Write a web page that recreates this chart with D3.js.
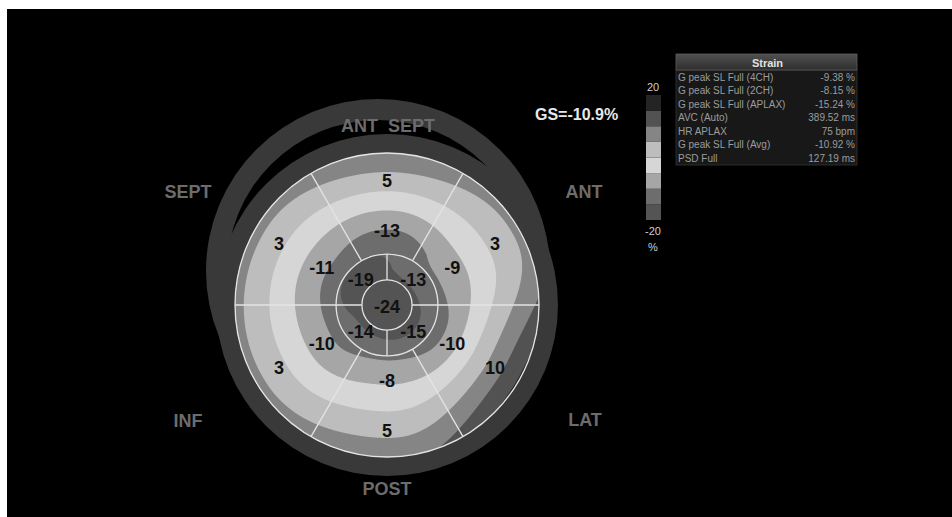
<!DOCTYPE html>
<html>
<head>
<meta charset="utf-8">
<script src="https://cdn.jsdelivr.net/npm/d3@7"></script>
<style>
  html, body { margin: 0; padding: 0; background: #fff; }
  svg { display: block; font-family: "Liberation Sans", Arial, sans-serif; }
</style>
</head>
<body>
<svg id="chart" width="952" height="517"></svg>
<script>
// Wall names, clockwise from the top of the bullseye
const walls = ["ANT SEPT", "ANT", "LAT", "POST", "INF", "SEPT"];
// Peak systolic longitudinal strain (%) per segment, same clockwise order
const basalStrain = [5, 3, 10, 5, 3, 3];
const midStrain = [-13, -9, -10, -8, -10, -11];
// Apical quadrants, clockwise from upper right
const apicalStrain = [-13, -15, -14, -19];
const apexStrain = -24;
const globalStrain = "GS=-10.9%";

// Colour bar: band edges and shades (from -20 up to 20)
const colorBreaks = [-15, -10, -5, 0, 5, 10, 15];
const colorShades = ["#545454", "#6d6d6d", "#a6a6a6", "#d6d6d6", "#bdbdbd", "#858585", "#525252", "#242424"];
const colorTicks = ["20", "-20", "%"];

// Measurements table
const tableTitle = "Strain";
const tableLabels = ["G peak SL Full (4CH)", "G peak SL Full (2CH)", "G peak SL Full (APLAX)",
  "AVC (Auto)", "HR APLAX", "G peak SL Full (Avg)", "PSD Full"];
const tableValues = ["-9.38 %", "-8.15 %", "-15.24 %", "389.52 ms", "75 bpm", "-10.92 %", "127.19 ms"];

const svg = d3.select("#chart");
const W = 952, H = 517;

// screen frame
svg.append("rect").attr("width", W).attr("height", H).attr("fill", "#fff");
svg.append("rect").attr("x", 7).attr("y", 9).attr("width", W - 7).attr("height", H - 9).attr("fill", "#000");

const cx = 387, cy = 305, R = 152;
// ring radii as fractions of the outer radius
const radius = d3.scaleLinear().domain([0, 1]).range([0, R]);
const rApex = radius(0.165), rApical = radius(0.335);
// radii where each ring's value sits in the smoothed field
const cApical = radius(0.24), cMid = radius(0.42), cBasal = radius(0.875);

const wallAngle = d3.scaleLinear().domain([0, walls.length]).range([0, 2 * Math.PI]);
const apicalAngle = d3.scaleLinear().domain([0, apicalStrain.length]).range([0, 2 * Math.PI]);

const color = d3.scaleThreshold().domain(colorBreaks).range(colorShades);

// dark band around the plot and its offset echo
const ringArc = d3.arc();
const band = svg.append("g").attr("fill", "#393939");
band.append("path")
  .attr("transform", `translate(${cx - 9},${cy - 34})`)
  .attr("d", ringArc({innerRadius: 151, outerRadius: 172, startAngle: 0, endAngle: 2 * Math.PI}));
band.append("path")
  .attr("transform", `translate(${cx},${cy})`)
  .attr("d", ringArc({innerRadius: R - 1, outerRadius: 171, startAngle: 0, endAngle: 2 * Math.PI}));

// smooth strain field, interpolated around each ring and across rings
function aroundRing(vals, offset, a) {
  const n = vals.length, step = 2 * Math.PI / n;
  let u = ((a - offset) / step) % n;
  if (u < 0) u += n;
  const i = Math.floor(u), t = u - i;
  const s = t * t * t * (t * (6 * t - 15) + 10);
  return vals[i] * (1 - s) + vals[(i + 1) % n] * s;
}
function strainAt(x, y) {
  const r = Math.hypot(x, y);
  let a = Math.atan2(x, -y);
  if (a < 0) a += 2 * Math.PI;
  const ap = aroundRing(apicalStrain, Math.PI / 4, a);
  const m = aroundRing(midStrain, 0, a);
  const b = aroundRing(basalStrain, 0, a);
  if (r <= cApical) return apexStrain + (ap - apexStrain) * r / cApical;
  if (r <= cMid) return ap + (m - ap) * (r - cApical) / (cMid - cApical);
  return m + (b - m) * (r - cMid) / (cBasal - cMid);
}

const N = 330, half = N / 2;
const grid = new Float64Array(N * N);
for (let j = 0; j < N; j++) {
  for (let i = 0; i < N; i++) grid[j * N + i] = strainAt(i + 0.5 - half, j + 0.5 - half);
}
const bands = d3.contours().size([N, N]).thresholds([-100].concat(colorBreaks))(grid);

const defs = svg.append("defs");
defs.append("clipPath").attr("id", "disk")
  .append("circle").attr("cx", cx).attr("cy", cy).attr("r", R);

const field = svg.append("g").attr("clip-path", "url(#disk)")
  .append("g").attr("transform", `translate(${cx - half},${cy - half})`);
field.selectAll("path").data(bands).join("path")
  .attr("d", d3.geoPath())
  .attr("fill", d => color(d.value));

// segment outlines
const plot = svg.append("g").attr("transform", `translate(${cx},${cy})`);
const lines = plot.append("g").attr("stroke", "#e4e4e4").attr("stroke-width", 1.3).attr("fill", "none");
[rApex, rApical, R].forEach(r => lines.append("circle").attr("r", r));
// six walls: spokes between mid/basal segments
d3.range(walls.length).forEach(k => {
  const a = wallAngle(k + 0.5);
  const inner = (Math.abs(Math.sin(a)) > 0.99) ? rApex : rApical;
  const p0 = d3.pointRadial(a, inner), p1 = d3.pointRadial(a, R);
  lines.append("line").attr("x1", p0[0]).attr("y1", p0[1]).attr("x2", p1[0]).attr("y2", p1[1]);
});
// apical quadrant spokes (vertical pair)
[0, Math.PI].forEach(a => {
  const p0 = d3.pointRadial(a, rApex), p1 = d3.pointRadial(a, rApical);
  lines.append("line").attr("x1", p0[0]).attr("y1", p0[1]).attr("x2", p1[0]).attr("y2", p1[1]);
});

// segment values
const valueText = plot.append("g")
  .attr("font-size", 18).attr("font-weight", "bold").attr("fill", "#111")
  .attr("text-anchor", "middle").attr("dominant-baseline", "central");
const labels = [];
basalStrain.forEach((v, k) => labels.push({v, p: d3.pointRadial(wallAngle(k), radius(0.82))}));
midStrain.forEach((v, k) => labels.push({v, p: d3.pointRadial(wallAngle(k), radius(0.495))}));
apicalStrain.forEach((v, k) => labels.push({v, p: d3.pointRadial(apicalAngle(k + 0.5), radius(0.245))}));
labels.push({v: apexStrain, p: [0, 1]});
valueText.selectAll("text").data(labels).join("text")
  .attr("x", d => d.p[0]).attr("y", d => d.p[1] + 1)
  .text(d => d.v);

// wall names around the plot
const namePos = [
  {x: cx + 1, y: 132}, {x: 584, y: 198}, {x: 585, y: 426},
  {x: cx, y: 495}, {x: 188, y: 427}, {x: 188, y: 198}
];
svg.append("g").attr("font-size", 18).attr("font-weight", "bold").attr("fill", "#6c6c6c")
  .attr("text-anchor", "middle")
  .selectAll("text").data(walls).join("text")
  .attr("x", (d, k) => namePos[k].x).attr("y", (d, k) => namePos[k].y)
  .attr("xml:space", "preserve")
  .text(d => d.replace(" ", "  "));

// global strain
svg.append("text").attr("x", 535).attr("y", 120)
  .attr("font-size", 16).attr("font-weight", "bold").attr("fill", "#e8e8e8")
  .text(globalStrain);

// colour bar
const barY = d3.scaleLinear().domain([20, -20]).range([95, 220]);
const edges = [-20].concat(colorBreaks, [20]);
svg.append("g").selectAll("rect").data(colorShades).join("rect")
  .attr("x", 646).attr("width", 15)
  .attr("y", (d, k) => barY(edges[k + 1]))
  .attr("height", (d, k) => barY(edges[k]) - barY(edges[k + 1]))
  .attr("fill", d => d);
const tickY = [barY(20) - 8, barY(-20) + 11, barY(-20) + 27];
svg.append("g").attr("font-size", 11).attr("fill", "#cfcfcf").attr("text-anchor", "middle")
  .attr("dominant-baseline", "central")
  .selectAll("text").data(colorTicks).join("text")
  .attr("x", 653).attr("y", (d, k) => tickY[k]).text(d => d);

// measurements table
const tx0 = 676, tx1 = 857;
const grad = defs.append("linearGradient").attr("id", "hdr").attr("x1", 0).attr("y1", 0).attr("x2", 0).attr("y2", 1);
grad.append("stop").attr("offset", 0).attr("stop-color", "#505050");
grad.append("stop").attr("offset", 1).attr("stop-color", "#2e2e2e");
const rowY = d3.scaleBand().domain(tableLabels).range([70.5, 165]);
const table = svg.append("g");
table.append("rect").attr("x", tx0).attr("y", 70).attr("width", tx1 - tx0).attr("height", 95)
  .attr("fill", "#181818").attr("stroke", "#2c2c2c").attr("stroke-width", 1);
table.append("rect").attr("x", tx0).attr("y", 54).attr("width", tx1 - tx0).attr("height", 16)
  .attr("fill", "url(#hdr)").attr("stroke", "#5c5c5c").attr("stroke-width", 0.8);
table.append("text").attr("x", (tx0 + tx1) / 2 + 1).attr("y", 62.5)
  .attr("text-anchor", "middle").attr("dominant-baseline", "central")
  .attr("font-size", 11).attr("font-weight", "bold").attr("fill", "#e2e2e2")
  .text(tableTitle);
const rows = table.selectAll("g.row").data(tableLabels).join("g").attr("class", "row")
  .attr("font-size", 10).attr("fill", "#9c9c9c").attr("dominant-baseline", "central");
rows.append("text").attr("x", tx0 + 2).attr("y", d => rowY(d) + rowY.bandwidth() / 2).text(d => d);
rows.append("text").attr("x", tx1 - 2).attr("text-anchor", "end")
  .attr("y", d => rowY(d) + rowY.bandwidth() / 2).text((d, k) => tableValues[k]);
</script>
</body>
</html>
